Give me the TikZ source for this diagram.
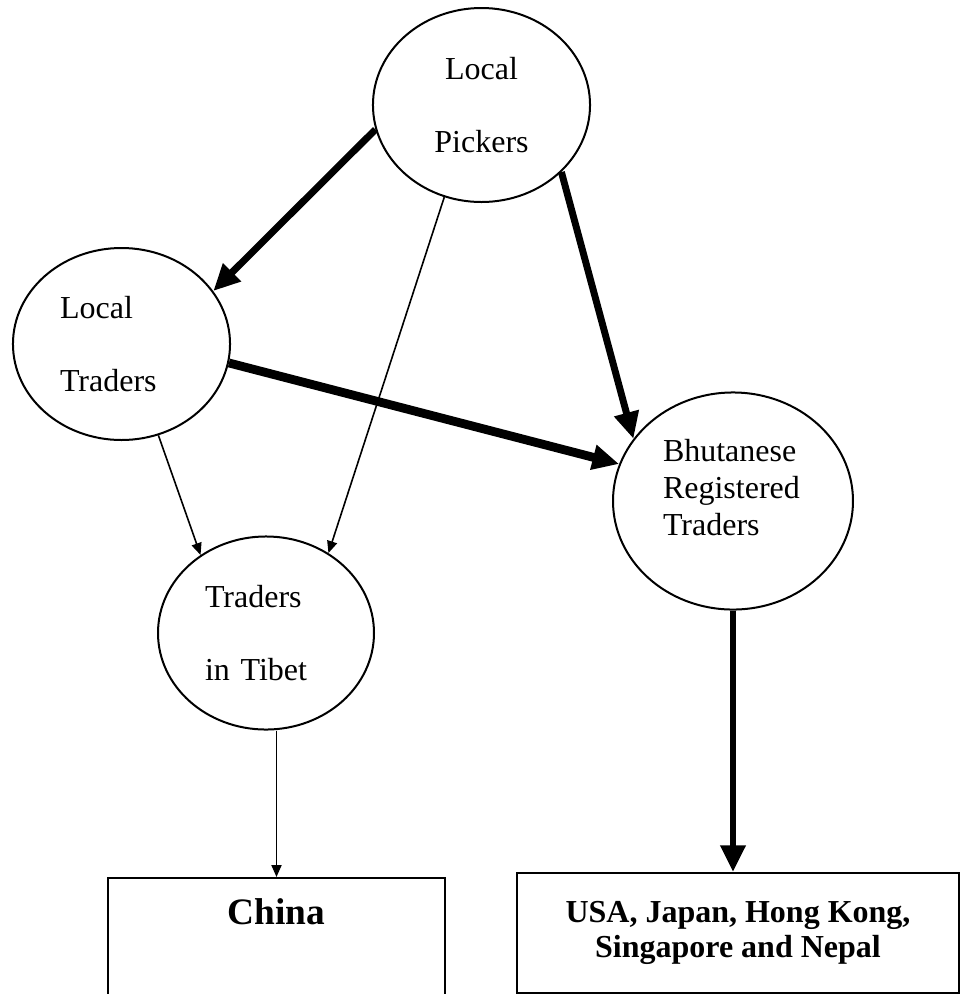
\documentclass[tikz,border=0pt]{standalone}
\usepackage{fontspec}
\setmainfont{Liberation Serif}
\usetikzlibrary{shapes.geometric, arrows.meta}

\begin{document}
\begin{tikzpicture}[
        x=0.375pt, y=-0.375pt,
        every node/.style={font=\fontsize{12}{13.8}\selectfont},
        circ/.style={ellipse, draw, line width=0.75pt, inner sep=0pt},
        dbl/.style={font=\fontsize{12}{27.6}\selectfont},
        box/.style={rectangle, draw, line width=0.75pt, inner sep=0pt, font=\bfseries\fontsize{12}{13}\selectfont},
        thinarrow/.style={line width=0.6pt, -{Triangle[length=4.5pt, width=3.8pt]}},
        thickarrow/.style={line width=2.6pt, -{Triangle[length=10pt, width=9pt]}}
    ]
        \useasboundingbox (0,0) rectangle (961,994);

        % Pickers
        \node[circ, dbl, minimum width=81.4pt, minimum height=72.75pt, text width=40pt, align=center] (pickers) at (481.5,105) {Local\\Pickers};

        % Traders
        \node[circ, dbl, minimum width=81.4pt, minimum height=72pt, text width=46.1pt, align=left] (traders) at (121.5,344) {Local\\Traders};
        \node[circ, dbl, minimum width=81pt, minimum height=72.4pt, text width=45.75pt, align=left] (tibet) at (266,633) {Traders\\in Tibet};
        \node[circ, minimum width=90pt, minimum height=81.4pt, text width=52.5pt, align=left] (bhutan) at (733,501) {Bhutanese\\Registered\\Traders\\[-3.7pt]\mbox{}};

        % Markets
        \node[box, anchor=north, minimum width=126.4pt, text height=17.25pt, text depth=60pt, font=\bfseries\fontsize{14}{16}\selectfont] (china) at (276.5,877) {China};
        \node[box, minimum width=165.75pt, minimum height=45pt, align=center] (dest) at (738,933) {USA, Japan, Hong Kong,\\Singapore and Nepal};

        % Arrows
        \draw[thickarrow] (pickers.193) -- (traders.30);
        \draw[thickarrow] (pickers.320) -- (bhutan.148);
        \draw[thinarrow] (pickers.248) -- (tibet.52);
        \draw[thickarrow, line width=3.3pt] (traders.350) -- (bhutan.162);
        \draw[thinarrow] (traders.292) -- (tibet.130);
        \draw[thinarrow] (tibet.south -| china.north) -- (china.north);
        \draw[thickarrow] (bhutan.south) -- (bhutan.south |- dest.north);

    \end{tikzpicture}
\end{document}
